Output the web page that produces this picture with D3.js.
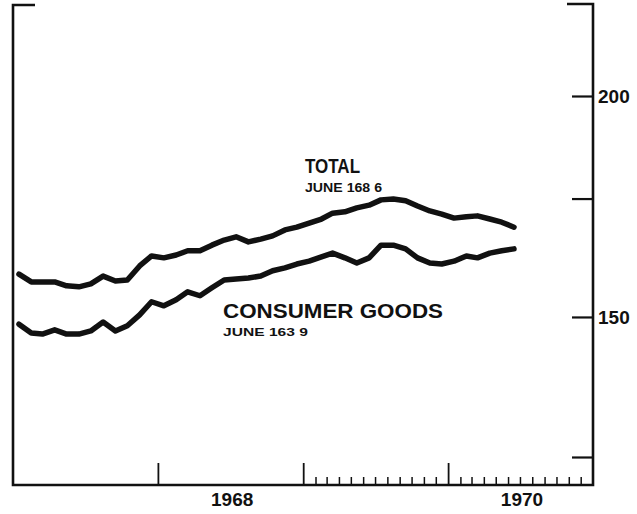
<!DOCTYPE html>
<html>
<head>
<meta charset="utf-8">
<script src="https://cdn.jsdelivr.net/npm/d3@7"></script>
<style>
	body { margin: 0; background: #fff; }
	text { font-family: 'Liberation Sans', Arial, sans-serif; font-weight: bold; fill: #111; }
</style>
</head>
<body>
<div id="chart"></div>
<script>
// monthly index, Jan 1967 - Jun 1970
const startYear = 1967;
const totalValues = [
	158.6, 157.0, 157.0, 157.0, 156.2, 156.0, 156.6, 158.2, 157.2, 157.4, 160.3, 162.4,
	162.0, 162.6, 163.5, 163.5, 164.7, 165.8, 166.5, 165.4, 166.0, 166.7, 168.0, 168.6,
	169.5, 170.4, 171.7, 172.0, 172.9, 173.5, 174.7, 174.9, 174.5, 173.3, 172.2, 171.5,
	170.6, 170.9, 171.1, 170.4, 169.7, 168.6
];
const consumerValues = [
	148.6, 146.9, 146.7, 147.5, 146.7, 146.7, 147.3, 149.0, 147.3, 148.3, 150.4, 153.0,
	152.2, 153.4, 155.0, 154.2, 155.8, 157.4, 157.6, 157.8, 158.2, 159.3, 159.9, 160.7,
	161.3, 162.2, 163.0, 162.0, 160.9, 162.0, 164.7, 164.7, 163.9, 162.0, 160.9, 160.7,
	161.3, 162.4, 162.0, 163.0, 163.5, 163.9
];
const yTicks = [125, 150, 175, 200];
const yLabels = [150, 200];
const yearLabels = [1968, 1970];
const seriesLabels = [
	{name: 'TOTAL', note: 'JUNE 168 6', values: totalValues},
	{name: 'CONSUMER GOODS', note: 'JUNE 163 9', values: consumerValues}
];

const chartWidth = 637, chartHeight = 514;
const frameLeft = 13, frameRight = 593, frameTop = 4, frameBottom = 485;

const svg = d3.select('#chart')
	.append('svg')
	.attr('width', chartWidth)
	.attr('height', chartHeight);

const xScale = d3.scaleTime()
	.domain([new Date(startYear, 0, 1), new Date(startYear + 4, 0, 1)])
	.range([frameLeft, frameRight]);

const yScale = d3.scaleLog()
	.domain([125, 200])
	.range([457, 96]);

const monthDate = i => new Date(startYear, i, 16);

// frame
svg.append('path')
	.attr('d', `M${frameLeft + 22},${frameTop + 1}H${frameLeft}V${frameBottom}H${frameRight}V${frameTop}H${frameRight - 26}`)
	.attr('stroke', '#111')
	.attr('stroke-width', 2.6)
	.attr('fill', 'none');

// right axis, ticks pointing in
svg.append('g')
	.attr('transform', `translate(${frameRight}, 0)`)
	.call(d3.axisRight(yScale)
		.tickValues(yTicks)
		.tickSize(-21)
		.tickPadding(5)
		.tickFormat(d => yLabels.includes(d) ? d : ''))
	.call(g => g.select('.domain').remove())
	.call(g => g.selectAll('line').attr('stroke', '#111').attr('stroke-width', 2.2))
	.call(g => g.selectAll('text')
		.attr('font-size', 19)
		.attr('font-family', "'Liberation Sans', Arial, sans-serif")
		.attr('font-weight', 'bold')
		.attr('fill', '#111'));

// year ticks
svg.append('g')
	.attr('transform', `translate(0, ${frameBottom})`)
	.call(d3.axisBottom(xScale)
		.tickValues([1968, 1969, 1970].map(y => new Date(y, 0, 1)))
		.tickSize(-22)
		.tickFormat(''))
	.call(g => g.select('.domain').remove())
	.call(g => g.selectAll('line').attr('stroke', '#111').attr('stroke-width', 1.8));

// month ticks 1969-1970
svg.append('g')
	.attr('transform', `translate(0, ${frameBottom})`)
	.call(d3.axisBottom(xScale)
		.tickValues(d3.timeMonths(new Date(1969, 1, 1), new Date(1971, 0, 1)).filter(d => d.getMonth() !== 0))
		.tickSize(-8)
		.tickFormat(''))
	.call(g => g.select('.domain').remove())
	.call(g => g.selectAll('line').attr('stroke', '#111').attr('stroke-width', 1.5));

// year labels centred on the year
svg.append('g')
	.selectAll('text')
	.data(yearLabels)
	.enter()
	.append('text')
	.attr('x', d => xScale(new Date(d, 6, 1)) + 2)
	.attr('y', 506)
	.attr('text-anchor', 'middle')
	.attr('font-size', 19)
	.text(d => d);

// series lines
const line = d3.line()
	.x((d, i) => xScale(monthDate(i)))
	.y(d => yScale(d));

svg.append('g')
	.selectAll('path')
	.data(seriesLabels)
	.enter()
	.append('path')
	.attr('d', d => line(d.values))
	.attr('fill', 'none')
	.attr('stroke', '#111')
	.attr('stroke-width', 5.5)
	.attr('stroke-linejoin', 'round')
	.attr('stroke-linecap', 'round');

// labels
const labelPos = [
	{x: 305, y: 173, size: 21, len: 55, noteY: 192, noteSize: 12, noteLen: 77},
	{x: 223, y: 318, size: 21, len: 220, noteY: 336, noteSize: 11, noteLen: 85}
];

seriesLabels.forEach((s, i) => {
	const p = labelPos[i];
	svg.append('text')
		.attr('x', p.x)
		.attr('y', p.y)
		.attr('font-size', p.size)
		.attr('textLength', p.len)
		.attr('lengthAdjust', 'spacingAndGlyphs')
		.text(s.name);
	svg.append('text')
		.attr('x', p.x)
		.attr('y', p.noteY)
		.attr('font-size', p.noteSize)
		.attr('textLength', p.noteLen)
		.attr('lengthAdjust', 'spacingAndGlyphs')
		.text(s.note);
});
</script>
</body>
</html>
